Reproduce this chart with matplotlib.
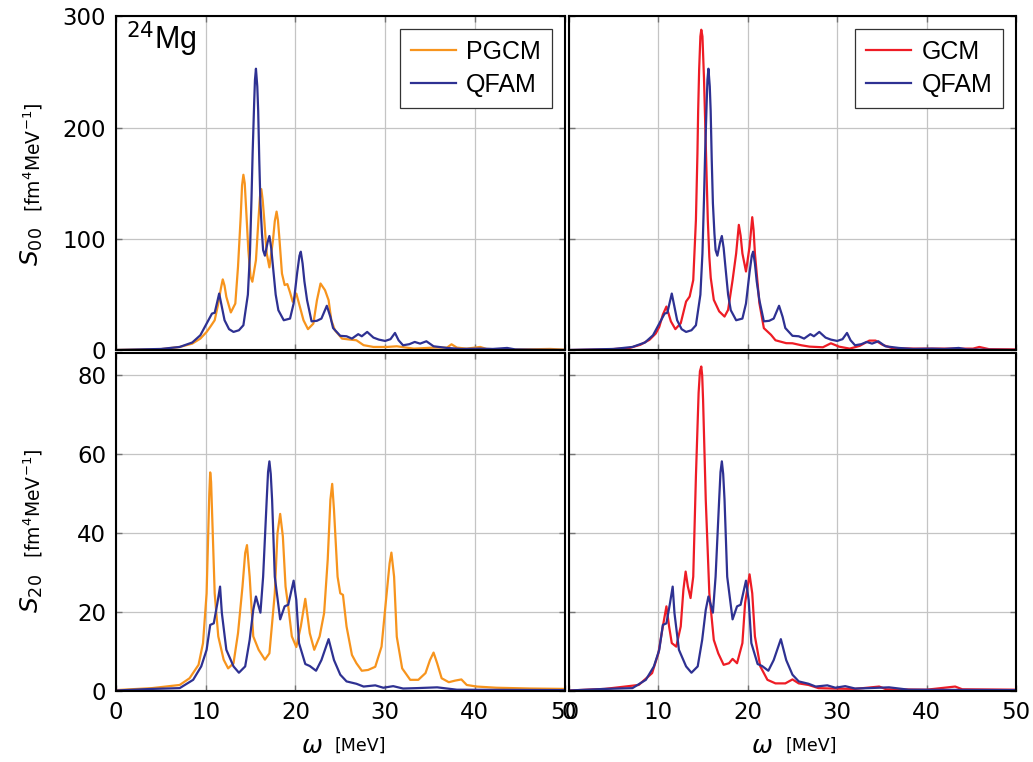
import numpy as np
import matplotlib.pyplot as plt

# omega in MeV, strength in fm^4 MeV^-1
# ---- S00 ----
E_pgcm_00 = [0, 5, 7.1, 8.5, 9.4, 10.1, 10.5, 11.0, 11.4, 11.7, 11.9, 12.1, 12.3, 12.8, 13.3, 13.6, 13.9,
             14.05, 14.2, 14.35, 14.5, 14.75, 15.0, 15.2, 15.6, 15.9, 16.05, 16.2, 16.35, 16.5, 16.8, 17.1,
             17.5, 17.7, 17.9, 18.05, 18.2, 18.5, 18.8, 19.1, 19.4, 19.7, 20.1, 20.5, 20.9, 21.4, 22.0,
             22.4, 22.8, 23.3, 23.7, 24.0, 24.4, 25.2, 26.1, 26.8, 27.6, 28.7, 30.2, 31.3, 33.2, 35.4,
             36.9, 37.4, 38.0, 39.1, 40.6, 41.3, 44.3, 48.4, 50]
S_pgcm_00 = [0.3, 1, 3, 6, 10.5, 16.5, 21, 27, 42, 56, 63.7, 58, 48, 34, 42, 75, 120,
             148, 157.7, 150, 128, 90, 66, 61.6, 81, 120, 138, 144.8, 135, 120, 87, 74.5,
             99, 116, 124.6, 117, 102, 69, 58.6, 59.5, 52, 43.6, 51, 39, 27, 19, 24,
             45, 60, 54, 45, 27, 18, 10.5, 9.6, 9, 4.6, 3, 3, 3.6, 1.5, 2.4,
             2.4, 5.4, 2.4, 1.5, 3, 1.2, 0.6, 1.2, 0.6]

E_qfam_00 = [0, 5, 7.1, 8.5, 9.4, 10.1, 10.7, 11.0, 11.3, 11.5, 11.7, 12.1, 12.6, 13.1, 13.7, 14.2, 14.7,
             14.93, 15.1, 15.23, 15.4, 15.49, 15.6, 15.75, 15.85, 15.97, 16.1, 16.27, 16.4, 16.6, 16.9, 17.1,
             17.3, 17.5, 17.8, 18.1, 18.7, 19.4, 19.8, 20.2, 20.45, 20.6, 20.8, 21.0, 21.3, 21.8, 22.4,
             22.9, 23.5, 23.9, 24.2, 25.0, 25.7, 26.3, 27.0, 27.4, 28.0, 28.7, 29.3, 30.0, 30.6, 31.1,
             31.5, 32.0, 32.7, 33.3, 33.9, 34.6, 35.4, 36.9, 38.5, 40.6, 42.0, 43.6, 44.5, 47, 50]
S_qfam_00 = [0.3, 1.2, 3, 7, 13.5, 24, 33, 33.7, 44, 51, 43, 27, 19, 16.5, 18, 22.5, 50,
             87, 135, 177, 222, 243, 253, 237, 215, 171, 132, 105, 90, 85, 97, 102.7,
             92, 75, 50, 36, 27, 28.5, 42, 70, 85, 88.6, 78, 62, 45, 26, 26.5,
             28.5, 40, 30, 20, 13, 12.6, 10.5, 14.5, 12.6, 16.5, 11.4, 9.6, 8.4, 10, 15.6,
             9, 4.5, 5.5, 7.5, 6, 8.1, 3.6, 2.1, 1.2, 1.5, 1.2, 2.1, 0.8, 0.5, 0.3]

E_gcm_00 = [0, 4, 6.7, 8, 9.0, 9.7, 10.1, 10.5, 10.9, 11.4, 11.9, 12.5, 13.1, 13.5, 13.9, 14.2, 14.37,
            14.45, 14.56, 14.7, 14.8, 14.93, 15.1, 15.23, 15.4, 15.53, 15.7, 15.86, 16.2, 16.8, 17.4, 17.8,
            18.3, 18.7, 19.0, 19.2, 19.4, 19.8, 20.2, 20.5, 20.65, 20.8, 21.3, 21.8, 22.6, 23.1, 24.3,
            25.0, 26.0, 26.9, 28.4, 29.3, 30.2, 31.4, 32.5, 33.6, 34.3, 35.1, 36.2, 38.8, 42.5, 45.2,
            45.9, 47, 50]
S_gcm_00 = [0.2, 0.7, 1.9, 5, 9.4, 15, 21, 32, 39.3, 26, 19, 24.3, 43.8, 48.3, 63, 117, 177,
            215, 252, 282, 288, 282, 245, 207, 155, 117, 84, 65, 45.3, 35, 30.3, 36.3,
            63, 87, 112.7, 103, 87, 70.8, 93, 119.6, 108, 87, 42.3, 19.9, 13.9, 9, 6.4,
            6.3, 4.5, 3.3, 2.7, 6.3, 3.3, 1.5, 3.9, 8.7, 8.7, 4.8, 1.8, 1.5, 1.5, 1.5,
            3, 1, 0.8]

# ---- S20 ----
E_pgcm_20 = [0, 4, 7.1, 8.2, 9.2, 9.7, 10.1, 10.3, 10.4, 10.5, 10.6, 10.7, 11.0, 11.4, 12.0, 12.5, 13.1,
             13.6, 14.1, 14.4, 14.6, 14.9, 15.3, 15.9, 16.6, 17.1, 17.7, 18.0, 18.3, 18.6, 18.9, 19.2,
             19.6, 20.1, 20.6, 21.1, 21.6, 22.1, 22.7, 23.2, 23.6, 23.9, 24.1, 24.3, 24.7, 25.0, 25.3,
             25.7, 26.3, 26.8, 27.4, 28.1, 28.9, 29.6, 30.1, 30.5, 30.7, 31.0, 31.3, 31.9, 32.8, 33.7,
             34.5, 35.0, 35.4, 35.8, 36.3, 37.1, 37.8, 38.5, 39.1, 40.2, 42.4, 46.2, 50]
S_pgcm_20 = [0.3, 0.8, 1.6, 3.3, 6.7, 12.2, 24.8, 41.7, 50, 55.4, 53, 46, 24.8, 13.9, 8, 5.8, 7.1,
             14.7, 26.5, 35, 37, 29, 13.9, 10.5, 8, 9.6, 24.8, 40, 44.9, 39.2, 26.5, 21.5,
             13.9, 11.2, 16.4, 23.4, 14.7, 10.5, 13.9, 19.8, 33.3, 48.5, 52.5, 45.9, 29, 24.8, 24.4,
             16.4, 9.2, 7.1, 5.2, 5.4, 6.2, 11.3, 23.1, 32.4, 35.1, 29, 13.8, 5.8, 2.9, 2.9,
             4.6, 7.9, 9.8, 7.1, 3.3, 2.3, 2.7, 3.0, 1.6, 1.2, 0.9, 0.7, 0.6]

E_qfam_20 = [0, 4, 7.1, 8.6, 9.5, 10.1, 10.5, 10.9, 11.3, 11.6, 11.8, 12.3, 13.1, 13.7, 14.4, 14.9, 15.3,
             15.6, 16.1, 16.4, 16.8, 16.95, 17.1, 17.25, 17.4, 17.7, 18.3, 18.8, 19.2, 19.8, 20.1, 20.4,
             21.1, 21.6, 22.3, 22.9, 23.7, 24.3, 25.0, 25.7, 26.8, 27.6, 28.9, 29.8, 30.9, 32, 33.5,
             35.8, 38, 50]
S_qfam_20 = [0.2, 0.6, 0.8, 2.9, 6.3, 10.5, 16.8, 17.2, 22.3, 26.5, 19.8, 10.5, 6.3, 4.7, 6.3, 13, 20.6,
             24, 19.9, 29, 48.5, 55.5, 58.2, 55, 48.5, 29, 18.2, 21.5, 21.9, 28, 23.1, 12.2,
             6.9, 6.4, 5.2, 7.9, 13.2, 7.9, 4.2, 2.5, 1.9, 1.2, 1.5, 0.9, 1.3, 0.7, 0.8,
             1.0, 0.4, 0.3]

E_gcm_20 = [0, 4, 7.8, 9.3, 10.0, 10.5, 10.9, 11.2, 11.5, 12.0, 12.5, 12.8, 13.05, 13.3, 13.6, 13.9, 14.2,
            14.5, 14.65, 14.8, 14.9, 15.0, 15.3, 15.7, 16.2, 16.7, 17.3, 17.9, 18.3, 18.8, 19.4, 19.7,
            20.2, 20.5, 20.8, 21.4, 22.2, 23.1, 24.2, 25.0, 25.7, 26.8, 27.9, 29.4, 32, 34.7, 35.5,
            40, 43.2, 44, 50]
S_gcm_20 = [0.2, 0.6, 1.6, 4.6, 9.6, 16.4, 21.5, 16.4, 12.2, 11.3, 16.4, 25.7, 30.3, 26.5, 23.6, 29, 54.4,
            75.5, 81, 82.2, 80, 73.8, 48.5, 24.8, 13, 9.6, 6.7, 7.1, 8.2, 7.1, 12.2, 22.3,
            29.6, 24.8, 13.9, 6.3, 2.9, 2.0, 2.0, 3.0, 2.0, 1.6, 0.8, 0.7, 0.6, 1.2, 0.5,
            0.4, 1.2, 0.5, 0.4]

xticks = [0, 10, 20, 30, 40, 50]
yticks_00 = [0, 100, 200, 300]
yticks_20 = [0, 20, 40, 60, 80]

c_pgcm = '#f7941d'
c_gcm = '#ee1c25'
c_qfam = '#2e3192'
lw = 1.6

fig = plt.figure(figsize=(10.33, 7.62), dpi=100)
ax_tl = fig.add_axes([0.1123, 0.5403, 0.4342, 0.4382])
ax_tr = fig.add_axes([0.5508, 0.5403, 0.4327, 0.4382])
ax_bl = fig.add_axes([0.1123, 0.0928, 0.4342, 0.4433])
ax_br = fig.add_axes([0.5508, 0.0928, 0.4327, 0.4433])

ax_tl.plot(E_pgcm_00, S_pgcm_00, color=c_pgcm, lw=lw, label='PGCM')
ax_tl.plot(E_qfam_00, S_qfam_00, color=c_qfam, lw=lw, label='QFAM')
ax_tr.plot(E_gcm_00, S_gcm_00, color=c_gcm, lw=lw, label='GCM')
ax_tr.plot(E_qfam_00, S_qfam_00, color=c_qfam, lw=lw, label='QFAM')
ax_bl.plot(E_pgcm_20, S_pgcm_20, color=c_pgcm, lw=lw)
ax_bl.plot(E_qfam_20, S_qfam_20, color=c_qfam, lw=lw)
ax_br.plot(E_gcm_20, S_gcm_20, color=c_gcm, lw=lw)
ax_br.plot(E_qfam_20, S_qfam_20, color=c_qfam, lw=lw)

for ax in [ax_tl, ax_tr, ax_bl, ax_br]:
    ax.set_xlim(0, 50)
    ax.set_xticks(xticks)
    ax.grid(True, color='#c4c4c4', lw=0.9)
    ax.set_axisbelow(True)
    ax.tick_params(direction='in', length=4, width=1, color='0.45', labelsize=16.5,
                   top=True, right=True, pad=7)
    for s in ax.spines.values():
        s.set_linewidth(1.5)
        s.set_color('black')

for ax in [ax_tl, ax_tr]:
    ax.set_ylim(0, 300)
    ax.set_yticks(yticks_00)
    ax.tick_params(labelbottom=False)
for ax in [ax_bl, ax_br]:
    ax.set_ylim(0, 85.5)
    ax.set_yticks(yticks_20)
for ax in [ax_tr, ax_br]:
    ax.tick_params(labelleft=False)

leg_kw = dict(loc='upper right', prop={'family': 'Liberation Sans', 'size': 18}, fancybox=False,
              edgecolor='0.2', framealpha=1, borderaxespad=0.5, handlelength=1.8,
              handletextpad=0.4, borderpad=0.45, labelspacing=0.35)
ax_tl.legend(**leg_kw).get_frame().set_linewidth(0.9)
ax_tr.legend(**leg_kw).get_frame().set_linewidth(0.9)

ax_tl.text(0.022, 0.99, r'$^{24}$Mg', transform=ax_tl.transAxes, ha='left', va='top',
           fontsize=22, family='Liberation Sans')

# y labels
fig.text(0.031, 1 - 247 / 762, r'$S_{00}$', rotation=90, ha='center', va='center', fontsize=18)
fig.text(0.032, 1 - 157 / 762, r'[fm$^4$MeV$^{-1}$]', rotation=90, ha='center', va='center', fontsize=13.5)
fig.text(0.031, 1 - 594 / 762, r'$S_{20}$', rotation=90, ha='center', va='center', fontsize=18)
fig.text(0.032, 1 - 503 / 762, r'[fm$^4$MeV$^{-1}$]', rotation=90, ha='center', va='center', fontsize=13.5)

# x labels
for xo, xu in [(312, 360), (762, 811)]:
    fig.text(xo / 1033, 1 - 746 / 762, r'$\omega$', ha='center', va='center', fontsize=18)
    fig.text(xu / 1033, 1 - 746 / 762, '[MeV]', ha='center', va='center', fontsize=12.5)

fig.savefig('out.png', dpi=100)
